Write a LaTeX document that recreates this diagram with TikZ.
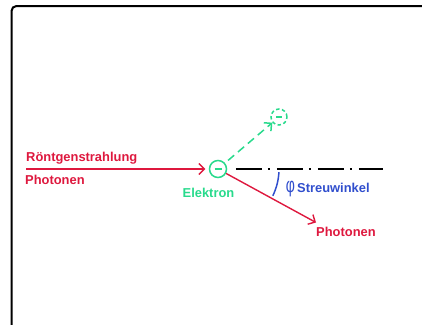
\documentclass[tikz,border=0pt]{standalone}
\usepackage{fontspec}
\setmainfont{Liberation Sans}
\usetikzlibrary{arrows.meta}
\definecolor{cred}{RGB}{222,24,62}
\definecolor{cgreen}{RGB}{40,218,140}
\definecolor{cblue}{RGB}{48,78,205}
\tikzset{
  lbl/.style={font=\fontsize{12.9}{15}\selectfont\bfseries, inner sep=0pt, anchor=base west},
  ray/.style={cred, line width=1.4pt, -{Straight Barb[length=5.5pt,width=11pt,line width=1.4pt]}},
  electron/.style={circle, draw=cgreen, line width=1.5pt, minimum size=17pt, inner sep=0pt},
  axisline/.style={black, line width=1.9pt, dash pattern=on 26pt off 6pt on 2pt off 7pt},
}
\begin{document}
\begin{tikzpicture}[x=1pt,y=1pt]
\useasboundingbox (0,0) rectangle (422,-324);
% frame
\draw[line width=2pt, rounded corners=5pt] (440,-6) -- (11.5,-6) -- (11.5,-340);
% electron
\node[electron] (e) at (218,-169) {};
\draw[cgreen, line width=1.5pt] ([xshift=-3.5pt]e.center) -- ([xshift=3.5pt]e.center);
% scattered electron
\node[electron, dashed, dash pattern=on 3.5pt off 2.5pt, minimum size=16pt] (e2) at (279,-117) {};
\draw[cgreen, line width=1.5pt] ([xshift=-3pt]e2.center) -- ([xshift=3pt]e2.center);
% incoming
\coordinate (src) at (26,-169);
\draw[ray, shorten >=3.5pt] (src) -- (e);
\node[lbl, cred] (t1) at (26,-161) {Röntgenstrahlung};
\node[lbl, cred] (t2) at (25,-184.5) {Photonen};
\node[lbl, cgreen, anchor=base] (t3) at (208.5,-197) {Elektron};
% dashed green
\draw[cgreen, line width=1.5pt, dash pattern=on 8pt off 5pt, shorten <=4pt, -{Straight Barb[length=5.5pt,width=11pt,line width=1.5pt]}] (e) -- (e2);
% axis
\coordinate (h2) at (383,-169);
\draw[axisline] ([xshift=8.5pt]e.east) -- (h2);
% outgoing photon
\coordinate (p2) at (316,-222.5);
\draw[ray] (e) -- (p2);
\node[lbl, cred] (t4) at (316,-236) {Photonen};
% angle
\draw[cblue, line width=1.5pt] ([shift={(-3:61)}]e.center) arc[start angle=-3, end angle=-26, radius=61];
\node[inner sep=0pt, anchor=center, cblue, font=\fontsize{17.5}{19}\selectfont, xscale=0.8, yscale=1.2] (phi) at (290.5,-189.5) {φ};
\node[lbl, cblue] (t5) at (297,-192.5) {Streuwinkel};
\end{tikzpicture}
\end{document}
